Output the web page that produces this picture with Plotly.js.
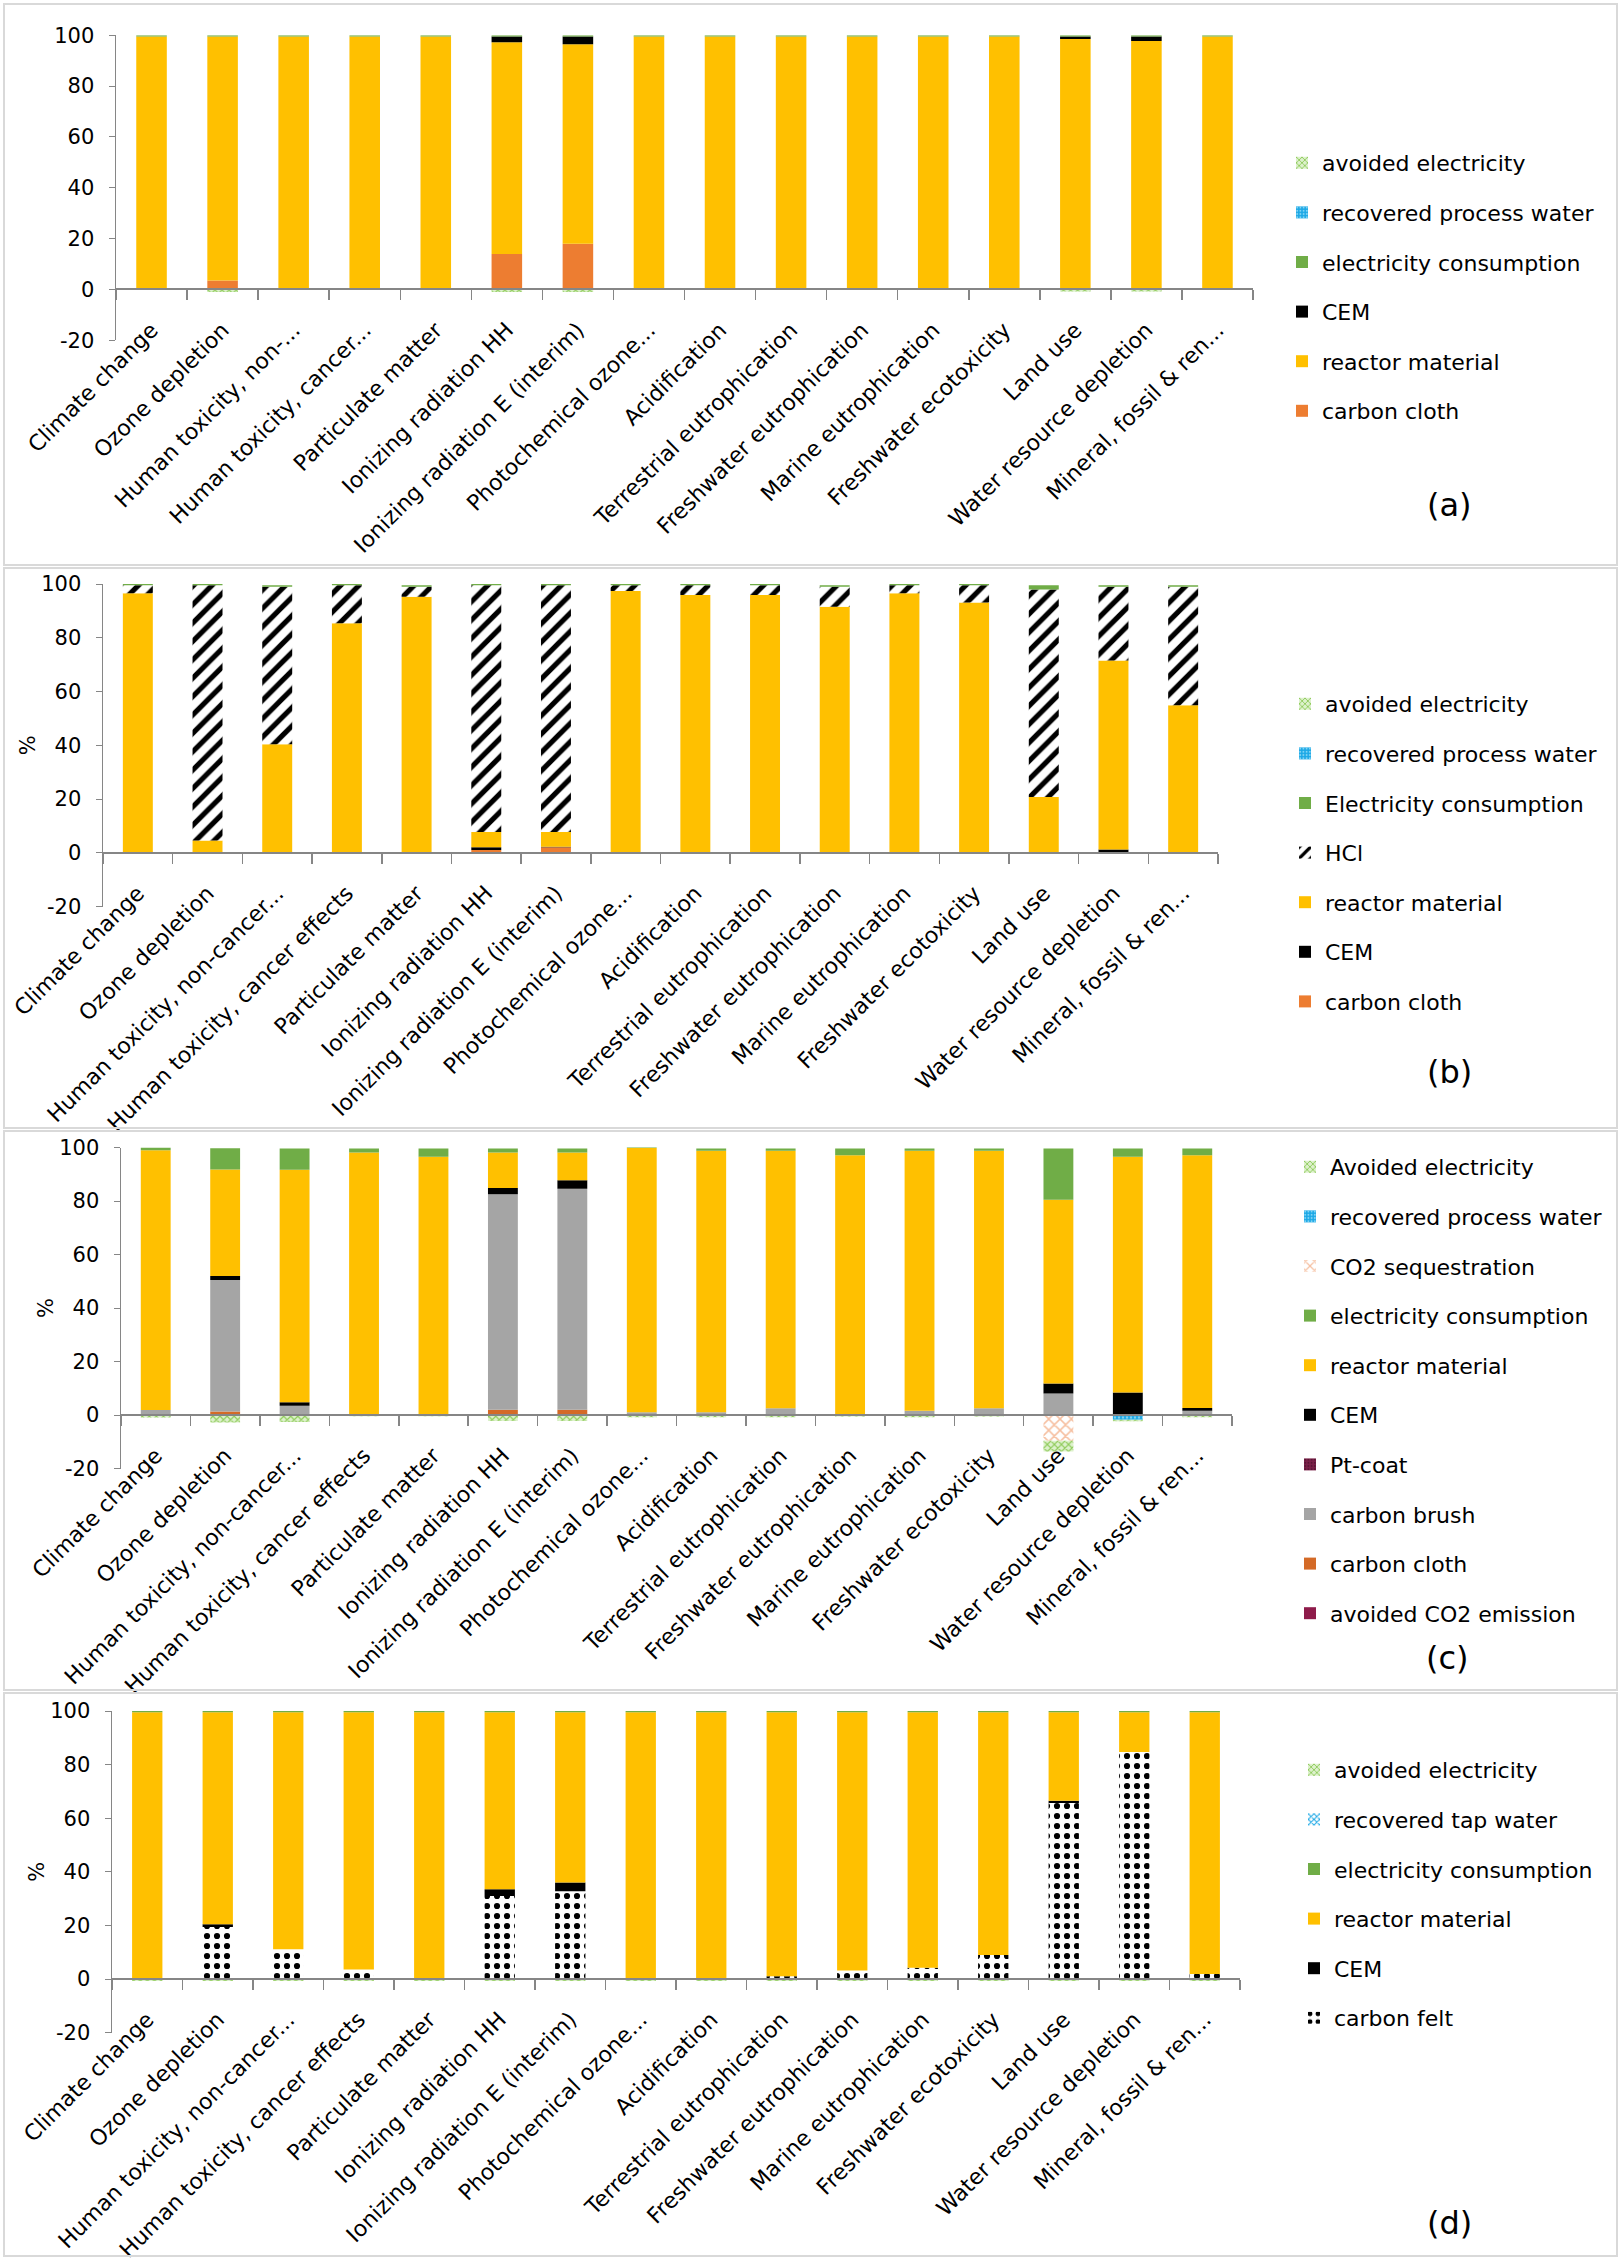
<!DOCTYPE html>
<html>
<head>
<meta charset="utf-8">
<script src="https://cdn.plot.ly/plotly-3.0.1.min.js"></script>
<style>html,body{margin:0;padding:0;background:#fff;} #chart{width:1623px;height:2264px;}</style>
</head>
<body>
<div id="chart"></div>
<script>
// ---------- categories / tick labels ----------
const catsA = ["Climate change","Ozone depletion","Human toxicity, non-...","Human toxicity, cancer...","Particulate matter","Ionizing radiation HH","Ionizing radiation E (interim)","Photochemical ozone...","Acidification","Terrestrial eutrophication","Freshwater eutrophication","Marine eutrophication","Freshwater ecotoxicity","Land use","Water resource depletion","Mineral, fossil & ren..."];
const catsB = ["Climate change","Ozone depletion","Human toxicity, non-cancer...","Human toxicity, cancer effects","Particulate matter","Ionizing radiation HH","Ionizing radiation E (interim)","Photochemical ozone...","Acidification","Terrestrial eutrophication","Freshwater eutrophication","Marine eutrophication","Freshwater ecotoxicity","Land use","Water resource depletion","Mineral, fossil & ren..."];
const catsC = catsB.slice();
const catsD = catsB.slice();
const yTickVals = [-20, 0, 20, 40, 60, 80, 100];
const yTickText = ["-20", "0", "20", "40", "60", "80", "100"];

// ---------- panel (a) values (%) ----------
const a_carbonCloth   = [0, 3.5, 0, 0, 0, 14, 18, 0, 0, 0, 0, 0, 0, 0, 0, 0];
const a_reactor       = [99.5, 96, 99.5, 99.5, 99.5, 83.3, 78.5, 99.5, 99.5, 99.5, 99.5, 99.5, 99.5, 98.5, 97.8, 99.5];
const a_CEM           = [0, 0, 0, 0, 0, 2.2, 3.0, 0, 0, 0, 0, 0, 0, 1.0, 1.7, 0];
const a_elec          = [0.5, 0.5, 0.5, 0.5, 0.5, 0.5, 0.5, 0.5, 0.5, 0.5, 0.5, 0.5, 0.5, 0.5, 0.5, 0.5];
const a_water         = [0, 0, 0, 0, 0, 0, 0, 0, 0, 0, 0, 0, 0, 0, 0, 0];
const a_avoided       = [-0.2, -1, -0.2, -0.2, -0.2, -1, -1, -0.2, -0.2, -0.2, -0.2, -0.2, -0.2, -0.8, -0.8, -0.2];

// ---------- panel (b) values (%) ----------
const b_carbonCloth   = [0, 0, 0, 0, 0, 1.0, 2.0, 0, 0, 0, 0, 0, 0, 0, 0.3, 0];
const b_CEM           = [0, 0, 0, 0, 0, 1.0, 0.2, 0, 0, 0, 0, 0, 0, 0, 0.9, 0];
const b_reactor       = [96.6, 4.6, 40.4, 85.4, 95.3, 5.7, 5.5, 97.4, 95.9, 95.9, 91.5, 96.6, 93.1, 20.7, 70.3, 54.9];
const b_HCl           = [2.9, 94.9, 58.6, 14.1, 3.7, 91.8, 91.8, 2.1, 3.6, 3.6, 7.5, 2.9, 6.4, 77.3, 27.5, 44.1];
const b_elec          = [0.5, 0.5, 0.5, 0.5, 0.5, 0.5, 0.5, 0.5, 0.5, 0.5, 0.5, 0.5, 0.5, 1.5, 0.5, 0.5];
const b_water         = [0, 0, 0, 0, 0, 0, 0, 0, 0, 0, 0, 0, 0, 0, 0, 0];
const b_avoided       = [-0.2, -0.2, -0.2, -0.2, -0.2, -0.2, -0.2, -0.2, -0.2, -0.2, -0.2, -0.2, -0.2, -0.2, -0.2, -0.2];

// ---------- panel (c) values (%) ----------
const c_avoidedCO2    = [0, 0, 0, 0, 0, 0, 0, 0, 0, 0, 0, 0, 0, 0, 0, 0];
const c_carbonCloth   = [0, 1.3, 0, 0, 0, 2.0, 2.0, 0, 0, 0, 0, 0, 0, 0, 0, 0];
const c_carbonBrush   = [1.9, 49.2, 3.5, 0.2, 0.2, 80.5, 82.6, 1.0, 1.0, 2.5, 0.2, 1.6, 2.5, 8.0, 0.4, 1.6];
const c_PtCoat        = [0, 0, 0, 0, 0, 0, 0, 0, 0, 0, 0, 0, 0, 0, 0, 0];
const c_CEM           = [0, 1.5, 1.3, 0, 0, 2.4, 3.2, 0, 0, 0, 0, 0, 0, 3.8, 8.0, 1.0];
const c_reactor       = [97.1, 39.8, 86.9, 97.9, 96.3, 13.2, 10.3, 98.8, 97.8, 96.3, 96.9, 97.2, 96.3, 68.7, 88.1, 94.5];
const c_elec          = [1.0, 7.9, 7.9, 1.5, 3.1, 1.5, 1.5, 0.7, 0.8, 0.8, 2.5, 0.8, 0.8, 19.1, 3.1, 2.5];
const c_CO2seq        = [0, 0, 0, 0, 0, 0, 0, 0, 0, 0, 0, 0, 0, -9.6, 0, 0];
const c_water         = [0, 0, 0, 0, 0, 0, 0, 0, 0, 0, 0, 0, 0, 0, -1.8, 0];
const c_avoided       = [-0.9, -2.8, -2.6, -0.5, -0.5, -2.2, -2.2, -0.8, -0.8, -0.8, -0.6, -0.8, -0.6, -4.0, -0.5, -0.8];

// ---------- panel (d) values (%) ----------
const d_carbonFelt    = [0, 19.4, 11.1, 3.5, 0, 31.0, 32.7, 0, 0, 1.0, 3.2, 4.2, 9.0, 65.7, 84.7, 1.9];
const d_CEM           = [0, 1.0, 0, 0, 0, 2.5, 3.3, 0, 0, 0, 0, 0, 0, 0.8, 0, 0];
const d_reactor       = [99.5, 79.1, 88.4, 96.0, 99.5, 66.0, 63.5, 99.5, 99.5, 98.5, 96.3, 95.3, 90.5, 33.0, 14.8, 97.6];
const d_elec          = [0.5, 0.5, 0.5, 0.5, 0.5, 0.5, 0.5, 0.5, 0.5, 0.5, 0.5, 0.5, 0.5, 0.5, 0.5, 0.5];
const d_tapWater      = [0, 0, 0, 0, 0, 0, 0, 0, 0, 0, 0, 0, 0, 0, 0, 0];
const d_avoided       = [-0.7, -0.7, -0.7, -0.7, -0.7, -0.7, -0.7, -0.7, -0.7, -0.7, -0.7, -0.7, -0.7, -0.7, -0.7, -0.7];

// ---------- styling ----------
const W = 1623, H = 2264;
const FONT = "DejaVu Sans";
const AXC = "#868686";
const COL = {
  reactor: "#FFC000", cloth: "#ED7D31", clothC: "#D46A27", cem: "#000000",
  elec: "#70AD47", water: "#1CA8E6", brush: "#A5A5A5", pt: "#7B2149",
  avCO2: "#8E1B4A"
};
const PAT = {
  avoided: {shape: "x", fgcolor: "#8FCB5A", bgcolor: "#DDF1CC", size: 5, solidity: 0.4},
  water:   {shape: ".", fgcolor: "#7FD3F5", bgcolor: "#1CA8E6", size: 4, solidity: 0.3},
  hcl:     {shape: "/", fgcolor: "#000000", bgcolor: "#FFFFFF", size: 13, solidity: 0.4},
  felt:    {shape: ".", fgcolor: "#000000", bgcolor: "#FFFFFF", size: 10, solidity: 0.3},
  co2seq:  {shape: "x", fgcolor: "#F6BFA0", bgcolor: "#FFFFFF", size: 8, solidity: 0.35},
  pt:      {shape: ".", fgcolor: "#5A1535", bgcolor: "#7B2149", size: 4, solidity: 0.3},
  tap:     {shape: "x", fgcolor: "#1CA8E6", bgcolor: "#FFFFFF", size: 5, solidity: 0.45}
};

// pixel geometry of the four panels
const panels = [
  {x0: 116, x1: 1253, top: 35.3, bot: 340.3, leg: [1282, 142], lab: [1449, 505], box: [4, 565], ytitle: ""},
  {x0: 103, x1: 1218, top: 584, bot: 906.5, leg: [1285, 683], lab: [1449, 1072], box: [568, 1128], ytitle: "%"},
  {x0: 121, x1: 1232, top: 1147.5, bot: 1468.5, leg: [1290, 1146], lab: [1447, 1658], box: [1131, 1690], ytitle: "%"},
  {x0: 112, x1: 1240, top: 1711, bot: 2032.6, leg: [1294, 1749], lab: [1449, 2223], box: [1693, 2256], ytitle: "%"}
];
const px = v => v / W;
const py = v => 1 - v / H;

const traces = [];
const counts = [0, 0, 0, 0];
function addBar(p, cats, name, y, color, pattern) {
  const idx = p + 1;
  const sfx = idx === 1 ? "" : String(idx);
  const marker = {color: color, line: {width: 0}};
  if (pattern) marker.pattern = pattern;
  traces.push({
    type: "bar", x: cats, y: y, name: name,
    xaxis: "x" + sfx, yaxis: "y" + sfx,
    legend: "legend" + sfx, legendgroup: "p" + idx + name,
    legendrank: 1000 - counts[p]++,
    marker: marker, hoverinfo: "skip"
  });
}

// (a) bottom -> top of the stack
addBar(0, catsA, "carbon cloth", a_carbonCloth, COL.cloth);
addBar(0, catsA, "reactor material", a_reactor, COL.reactor);
addBar(0, catsA, "CEM", a_CEM, COL.cem);
addBar(0, catsA, "electricity consumption", a_elec, COL.elec);
addBar(0, catsA, "recovered process water", a_water, COL.water, PAT.water);
addBar(0, catsA, "avoided electricity", a_avoided, "#DDF1CC", PAT.avoided);
// (b)
addBar(1, catsB, "carbon cloth", b_carbonCloth, COL.cloth);
addBar(1, catsB, "CEM", b_CEM, COL.cem);
addBar(1, catsB, "reactor material", b_reactor, COL.reactor);
addBar(1, catsB, "HCl", b_HCl, "#FFFFFF", PAT.hcl);
addBar(1, catsB, "Electricity consumption", b_elec, COL.elec);
addBar(1, catsB, "recovered process water", b_water, COL.water, PAT.water);
addBar(1, catsB, "avoided electricity", b_avoided, "#DDF1CC", PAT.avoided);
// (c)
addBar(2, catsC, "avoided CO2 emission", c_avoidedCO2, COL.avCO2);
addBar(2, catsC, "carbon cloth", c_carbonCloth, COL.clothC);
addBar(2, catsC, "carbon brush", c_carbonBrush, COL.brush);
addBar(2, catsC, "Pt-coat", c_PtCoat, COL.pt, PAT.pt);
addBar(2, catsC, "CEM", c_CEM, COL.cem);
addBar(2, catsC, "reactor material", c_reactor, COL.reactor);
addBar(2, catsC, "electricity consumption", c_elec, COL.elec);
addBar(2, catsC, "CO2 sequestration", c_CO2seq, "#FFFFFF", PAT.co2seq);
addBar(2, catsC, "recovered process water", c_water, COL.water, PAT.water);
addBar(2, catsC, "Avoided electricity", c_avoided, "#DDF1CC", PAT.avoided);
// (d)
addBar(3, catsD, "carbon felt", d_carbonFelt, "#FFFFFF", PAT.felt);
addBar(3, catsD, "CEM", d_CEM, COL.cem);
addBar(3, catsD, "reactor material", d_reactor, COL.reactor);
addBar(3, catsD, "electricity consumption", d_elec, COL.elec);
addBar(3, catsD, "recovered tap water", d_tapWater, "#FFFFFF", PAT.tap);
addBar(3, catsD, "avoided electricity", d_avoided, "#DDF1CC", PAT.avoided);

const layout = {
  width: W, height: H,
  margin: {l: 0, r: 0, t: 0, b: 0},
  paper_bgcolor: "#FFFFFF", plot_bgcolor: "rgba(0,0,0,0)",
  barmode: "relative", bargap: 0.57,
  font: {family: FONT, size: 21, color: "#000000"},
  showlegend: true, hovermode: false,
  shapes: [], annotations: []
};

panels.forEach((p, i) => {
  const sfx = i === 0 ? "" : String(i + 1);
  const yb = py(p.bot), yt = py(p.top);
  const zeroPos = yb + (yt - yb) * 20 / 120;
  layout["xaxis" + sfx] = {
    domain: [px(p.x0), px(p.x1)], anchor: "free", position: zeroPos,
    type: "category", showline: true, linecolor: AXC, linewidth: 2,
    ticks: "outside", tickson: "boundaries", ticklen: 10, tickcolor: AXC, tickwidth: 1.5,
    ticklabelstandoff: 18,
    tickangle: -45, tickfont: {family: FONT, size: 22, color: "#000"},
    showgrid: false, zeroline: false, fixedrange: true
  };
  layout["yaxis" + sfx] = {
    domain: [yb, yt], anchor: "x" + sfx, range: [-20, 100],
    tickvals: yTickVals, ticktext: yTickText, showline: true, linecolor: AXC, linewidth: 1.5,
    ticks: "outside", ticklen: 6, tickcolor: AXC, ticklabelstandoff: 10,
    tickfont: {family: FONT, size: 21, color: "#000"},
    showgrid: false, zeroline: false, fixedrange: true,
    title: {text: p.ytitle, font: {family: FONT, size: 21, color: "#000"}, standoff: 0}
  };
  layout["legend" + sfx] = {
    x: px(p.leg[0]), y: py(p.leg[1]), xanchor: "left", yanchor: "top",
    traceorder: "grouped", tracegroupgap: 18,
    font: {family: FONT, size: 22, color: "#000"}, bgcolor: "rgba(0,0,0,0)"
  };
  layout.shapes.push({
    type: "rect", xref: "paper", yref: "paper",
    x0: px(4), x1: px(1617), y0: py(p.box[1]), y1: py(p.box[0]),
    line: {color: "#D9D9D9", width: 2}
  });
  layout.annotations.push({
    xref: "paper", yref: "paper", x: px(p.lab[0]), y: py(p.lab[1]),
    xanchor: "center", yanchor: "middle", showarrow: false,
    text: "(" + "abcd"[i] + ")", font: {family: FONT, size: 32, color: "#000"}
  });
});

Plotly.newPlot("chart", traces, layout, {staticPlot: true, displayModeBar: false});
</script>
</body>
</html>
